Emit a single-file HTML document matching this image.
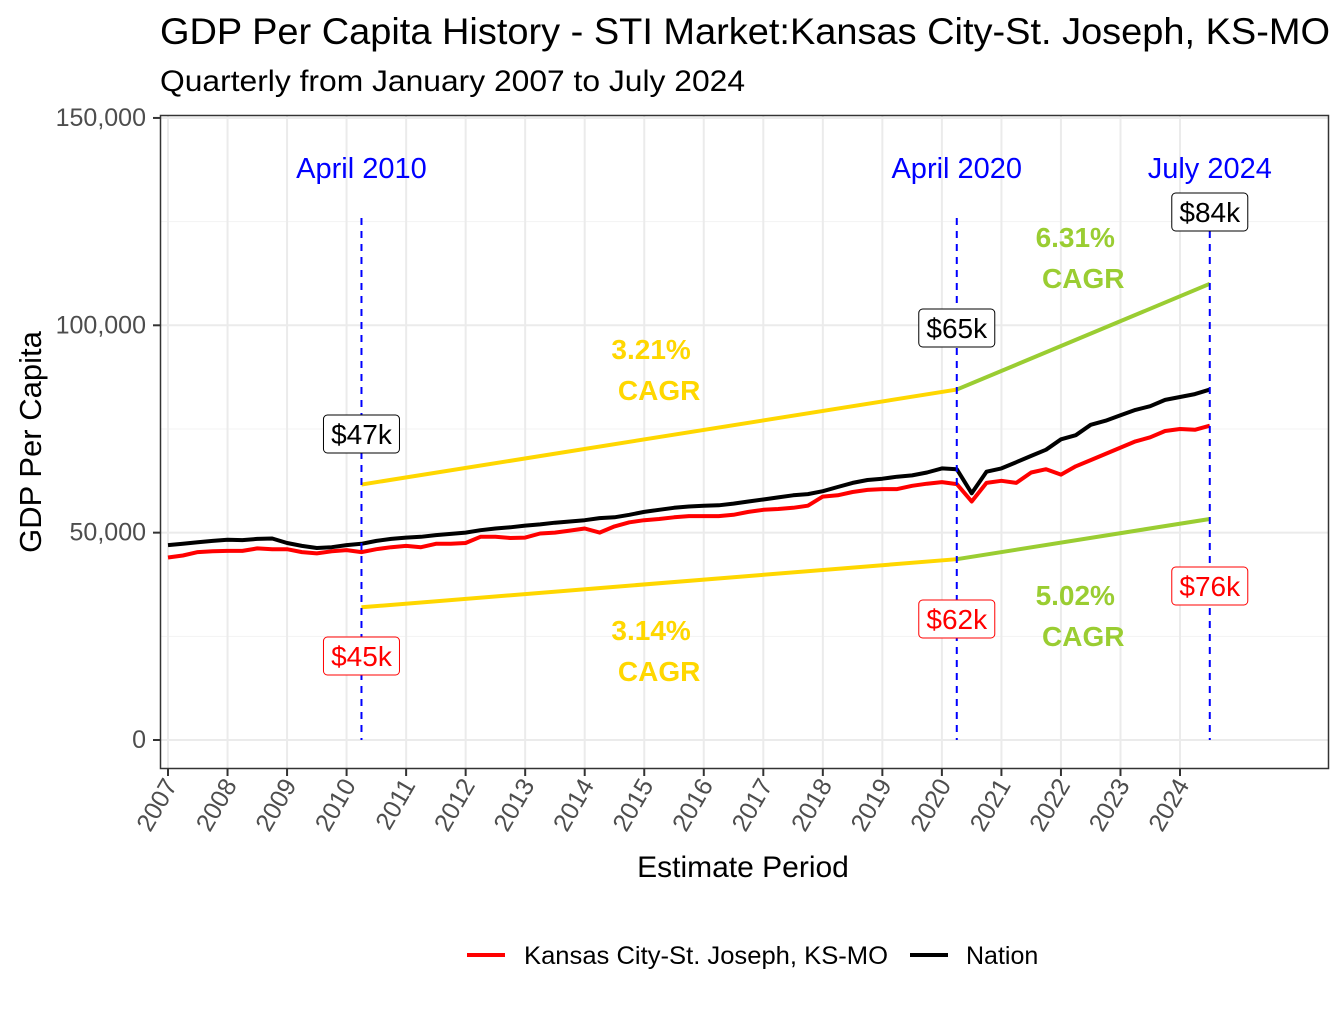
<!DOCTYPE html>
<html><head><meta charset="utf-8"><style>
body{margin:0;background:#fff}
svg text{font-family:"Liberation Sans",Arial,sans-serif}
</style></head><body>
<svg id="chart" width="1344" height="1008" xmlns="http://www.w3.org/2000/svg">
<text x="160" y="44" font-size="37" textLength="1170" lengthAdjust="spacingAndGlyphs" fill="#000">GDP Per Capita History - STI Market:Kansas City-St. Joseph, KS-MO</text>
<text x="160" y="91" font-size="30" textLength="585" lengthAdjust="spacingAndGlyphs" fill="#000">Quarterly from January 2007 to July 2024</text>
<g id="grid"></g>
<g id="marks"></g>
<rect x="160.5" y="115.5" width="1168" height="653" fill="none" stroke="#333" stroke-width="1.5"/>
<g id="axes"></g>
<text x="743" y="877" font-size="30" text-anchor="middle">Estimate Period</text>
<text transform="translate(41,442) rotate(-90)" font-size="31" text-anchor="middle">GDP Per Capita</text>
<g>
<line x1="467" y1="955" x2="505" y2="955" stroke="#f00" stroke-width="4"/>
<text x="524" y="964" font-size="25" textLength="364" lengthAdjust="spacingAndGlyphs">Kansas City-St. Joseph, KS-MO</text>
<line x1="910" y1="955" x2="948" y2="955" stroke="#000" stroke-width="4"/>
<text x="966" y="964" font-size="25">Nation</text>
</g>
</svg>
<script>
const yTicks=[0,50000,100000,150000];
const yTickLabels=["0","50,000","100,000","150,000"];
const xYears=[2007,2008,2009,2010,2011,2012,2013,2014,2015,2016,2017,2018,2019,2020,2021,2022,2023,2024];
const nation=[47.0,47.3,47.7,48.0,48.3,48.2,48.5,48.6,47.5,46.8,46.3,46.5,47.0,47.3,48.0,48.5,48.8,49.0,49.4,49.7,50.0,50.6,51.0,51.3,51.7,52.0,52.4,52.7,53.0,53.5,53.7,54.3,55.0,55.5,56.0,56.3,56.5,56.6,57.0,57.5,58.0,58.5,59.0,59.3,60.0,61.0,62.0,62.7,63.0,63.5,63.8,64.5,65.5,65.3,59.5,64.7,65.5,67.0,68.5,70.0,72.5,73.5,76.0,77.0,78.3,79.6,80.5,82.0,82.7,83.4,84.5];
const market=[44.0,44.5,45.3,45.5,45.6,45.6,46.2,46.0,46.0,45.3,45.0,45.5,45.8,45.3,46.0,46.5,46.8,46.5,47.3,47.3,47.5,49.0,49.0,48.7,48.8,49.8,50.0,50.5,51.0,50.0,51.5,52.5,53.0,53.3,53.7,54.0,54.0,54.0,54.3,55.0,55.5,55.7,56.0,56.5,58.7,59.0,59.8,60.3,60.5,60.5,61.3,61.8,62.2,61.7,57.5,62.0,62.5,62.0,64.5,65.3,64.0,66.0,67.5,69.0,70.5,72.0,73.0,74.5,75.0,74.8,75.8];
const cagrUpper=[[2010.25,61600,2020.25,84500,"#FFD700"],[2020.25,84500,2024.5,110000,"#9ACD32"]];
const cagrLower=[[2010.25,32000,2020.25,43600,"#FFD700"],[2020.25,43600,2024.5,53300,"#9ACD32"]];
const markers=[[2010.25,"April 2010","$47k","$45k",434,656],[2020.25,"April 2020","$65k","$62k",328,619],[2024.5,"July 2024","$84k","$76k",212,586]];
const cagrText=[[2010.25,2020.25,"3.21%",349,"#FFD700"],[2010.25,2020.25,"3.14%",630,"#FFD700"],[2020.25,2024.5,"6.31%",237,"#9ACD32"],[2020.25,2024.5,"5.02%",595,"#9ACD32"]];
const NS="http://www.w3.org/2000/svg";
const X=t=>168+(t-2007)*59.53;
const Y=v=>740-v*0.004147;
function mk(tag,attrs,parent,txt){const e=document.createElementNS(NS,tag);for(const k in attrs)e.setAttribute(k,attrs[k]);if(txt!==undefined)e.textContent=txt;parent.appendChild(e);return e;}
const grid=document.getElementById('grid'),marks=document.getElementById('marks'),axes=document.getElementById('axes');
for(let i=0;i<yTicks.length;i++){
 const g=mk('line',{x1:161,x2:1328,y1:Y(yTicks[i]),y2:Y(yTicks[i]),stroke:'#ebebeb','stroke-width':2},grid);
 
 
 if(i<yTicks.length-1){const m=mk('line',{x1:161,x2:1328,y1:Y(yTicks[i]+25000),y2:Y(yTicks[i]+25000),stroke:'#f3f3f3','stroke-width':1},grid);
 
 }
 const t=mk('line',{x1:153,x2:160,y1:Y(yTicks[i]),y2:Y(yTicks[i]),stroke:'#333','stroke-width':2},axes);
 
 
 const l=mk('text',{x:146,y:Y(yTicks[i])+8,'font-size':25,fill:'#4d4d4d','text-anchor':'end'},axes,yTickLabels[i]);
 
 
}
xYears.forEach(yr=>{
 const x=X(yr);
 const g=mk('line',{x1:x,x2:x,y1:116,y2:768,stroke:'#ebebeb','stroke-width':2},grid);
 
 
 const t=mk('line',{x1:x,x2:x,y1:769,y2:776,stroke:'#333','stroke-width':2},axes);
 
 
 const l=mk('text',{transform:`translate(${x+10},${785}) rotate(-60)`,'font-size':25,fill:'#4d4d4d','text-anchor':'end'},axes,String(yr));
 
 
});
[...cagrUpper,...cagrLower].forEach(s=>{
 const l=mk('line',{x1:X(s[0]),y1:Y(s[1]),x2:X(s[2]),y2:Y(s[3]),stroke:s[4],'stroke-width':4},marks);
 
 
});
function path(arr,color,name){
 const d=arr.map((v,i)=>(i?'L':'M')+X(2007+i/4).toFixed(1)+','+Y(v*1000).toFixed(1)).join(' ');
 const p=mk('path',{d:d,fill:'none',stroke:color,'stroke-width':4,'stroke-linejoin':'round'},marks);
 
 
}
path(market,'#f00','market-line');
path(nation,'#000','nation-line');
cagrText.forEach(c=>{
 const cx=(X(c[0])+X(c[1]))/2-8;
 const a=mk('text',{x:cx,y:c[3]+10,'font-size':28,fill:c[4],'text-anchor':'middle','font-weight':'bold'},marks,c[2]);
 
 
 const b=mk('text',{x:cx+8,y:c[3]+51,'font-size':28,fill:c[4],'text-anchor':'middle','font-weight':'bold'},marks,'CAGR');
 
 
});
function label(x,y,txt,color,name){
 const w=txt.length*16+12;
 const r=mk('rect',{x:x-w/2,y:y-19,width:w,height:38,rx:4,fill:'#fff',stroke:color,'stroke-width':1},marks);
 
 
 const t=mk('text',{x:x,y:y+10,'font-size':28,fill:color,'text-anchor':'middle'},marks,txt);
 
 
}
markers.forEach(m=>{
 const x=X(m[0]);
 const l=mk('line',{x1:x,x2:x,y1:218,y2:740,stroke:'#00f','stroke-width':2,'stroke-dasharray':'7,6'},marks);
 
 
 const t=mk('text',{x:x,y:178,'font-size':29,fill:'#00f','text-anchor':'middle'},marks,m[1]);
 
 
 label(x,m[4],m[2],'#000','nation-value-label');
 label(x,m[5],m[3],'#f00','market-value-label');
});
</script>
</body></html>
